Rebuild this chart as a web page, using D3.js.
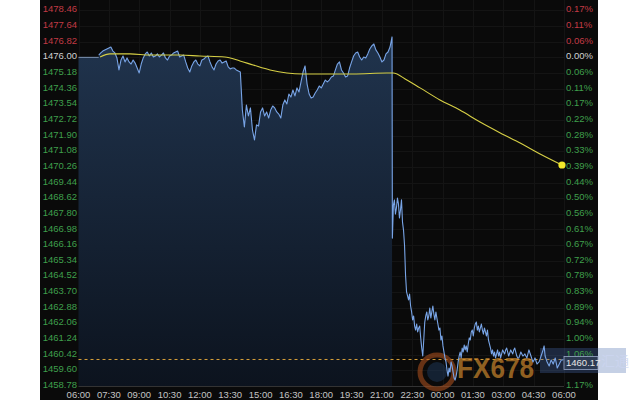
<!DOCTYPE html>
<html><head><meta charset="utf-8">
<script src="https://cdn.jsdelivr.net/npm/d3@7"></script>
<style>html,body{margin:0;padding:0;background:#fff;}svg{display:block;}</style>
</head><body>
<svg id="c" width="640" height="400"></svg>
<script>
// ---------------- DATA ----------------
const prevClose = 1476.00;
const lastPrice = 1460.17;
const yTickLabels = ["1478.46","1477.64","1476.82","1476.00","1475.18","1474.36","1473.54","1472.72","1471.90","1471.08","1470.26","1469.44","1468.62","1467.80","1466.98","1466.16","1465.34","1464.52","1463.70","1462.88","1462.06","1461.24","1460.42","1459.60","1458.78"];
const pctLabels = ["0.17%","0.11%","0.06%","0.00%","0.06%","0.11%","0.17%","0.22%","0.28%","0.33%","0.39%","0.44%","0.50%","0.56%","0.61%","0.67%","0.72%","0.78%","0.83%","0.89%","0.94%","1.00%","1.06%","1.11%","1.17%"];
const xTickLabels = ["06:00","07:30","09:00","10:30","12:00","13:30","15:00","16:30","18:00","19:30","21:00","22:30","00:00","01:30","03:00","04:30","06:00"];

const session1Start = "07:00";
const session1BarMinutes = 6;
const session1Prices = [1476.12,1476.23,1476.33,1476.39,1476.44,1476.49,1476.54,1476.33,1476.23,1475.97,
1475.34,1475.86,1476.07,1475.76,1475.97,1475.76,1475.65,1475.86,1475.70,1475.44,
1475.18,1475.65,1475.97,1476.18,1476.28,1476.07,1476.23,1476.02,1476.07,1476.18,
1476.02,1476.12,1476.23,1475.97,1475.86,1476.07,1476.12,1476.23,1476.28,1476.33,
1476.02,1476.07,1476.12,1475.76,1475.44,1475.23,1475.55,1475.76,1475.86,1475.65,
1475.55,1475.86,1475.91,1476.02,1476.07,1475.76,1475.50,1475.34,1475.65,1475.81,
1475.86,1475.70,1475.76,1475.81,1475.50,1475.39,1475.44,1475.44,1475.34,1475.29,
1475.23,1473.24,1472.35,1473.50,1472.93,1473.35,1472.19,1471.67,1472.46,1472.40,
1473.14,1473.35,1472.93,1473.14,1472.82,1473.24,1473.45,1473.35,1473.14,1473.03,
1472.82,1473.50,1473.77,1473.56,1474.08,1473.92,1474.29,1473.98,1474.40,1474.19,
1474.71,1475.23,1475.55,1474.60,1474.08,1473.87,1473.92,1474.13,1474.29,1474.50,
1474.40,1474.60,1474.81,1474.71,1474.81,1474.97,1475.02,1475.34,1475.65,1475.76,
1475.34,1475.18,1474.97,1475.02,1475.44,1475.76,1476.07,1476.23,1476.28,1476.02,
1475.86,1476.02,1475.97,1476.18,1476.44,1476.60,1476.70,1476.39,1476.23,1476.02,
1475.76,1475.86,1476.18,1476.28,1476.54,1477.07];

const session2Start = "21:31";
const session2BarMinutes = 3;
const session2Prices = [1466.53,
1468.26,1468.53,1467.79,1468.11,1468.63,1468.32,1467.58,1468.00,1468.53,1467.37,
1466.95,1466.17,1464.60,1463.71,1463.50,1463.29,1463.60,1462.97,1462.66,1462.24,
1462.45,1461.92,1461.71,1462.03,1461.61,1461.82,1461.92,1461.30,1460.77,1460.35,
1461.19,1462.13,1462.45,1462.66,1462.24,1462.45,1462.87,1462.34,1462.66,1462.97,
1462.55,1462.24,1462.66,1462.34,1462.03,1461.71,1461.82,1461.19,1461.40,1460.88,
1460.56,1460.25,1460.04,1459.62,1459.30,1459.72,1459.51,1460.04,1459.83,1459.51,
1459.20,1459.09,1459.30,1459.62,1460.04,1460.35,1460.56,1460.25,1460.77,1460.56,
1460.93,1460.67,1460.88,1460.56,1460.98,1461.30,1461.19,1461.61,1461.71,1461.40,
1461.82,1462.03,1462.13,1461.71,1461.92,1461.61,1461.82,1462.03,1461.71,1461.50,
1461.82,1461.61,1461.40,1461.71,1461.19,1460.98,1460.77,1460.46,1460.67,1460.35,
1460.56,1460.25,1460.46,1460.67,1460.35,1460.56,1460.25,1460.46,1460.67,1460.56,
1460.46,1460.67,1460.77,1460.56,1460.35,1460.51,1460.67,1460.56,1460.46,1460.67,
1460.77,1460.56,1460.35,1460.25,1460.25,1460.40,1460.56,1460.46,1460.35,1460.40,
1460.46,1460.35,1460.25,1460.46,1460.67,1460.51,1460.35,1460.19,1460.04,1460.14,
1460.25,1460.09,1459.93,1459.99,1460.04,1460.19,1460.35,1460.51,1460.67,1460.88,
1460.35,1460.19,1460.04,1459.93,1459.83,1459.99,1460.14,1460.04,1459.93,1460.09,
1460.25,1459.99,1459.72,1459.83,1459.93,1460.04,1460.14,1460.14,1460.17];

const avgTimes = ["07:04","07:33","08:33","09:32","11:01","12:00","13:14","13:59","14:38","15:28","16:18","17:06","17:56","19:34","21:15","21:33","22:14","22:53","23:52","00:51","01:51","02:51","03:50","04:49","05:54"];
const avgValues = [1476.02,1476.18,1476.18,1476.12,1476.12,1476.07,1476.02,1475.81,1475.60,1475.34,1475.18,1475.13,1475.13,1475.13,1475.18,1475.18,1474.81,1474.40,1473.77,1473.24,1472.61,1472.04,1471.51,1470.94,1470.36];

// ---------------- HELPERS ----------------
function toMin(s){ const [h,m]=s.split(":").map(Number); let t=(h-6)*60+m; if(t<0) t+=1440; return t; }
function series(start, step, vals){ const t0=toMin(start); return vals.map((v,i)=>({t:t0+i*step, v})); }

const s1 = series(session1Start, session1BarMinutes, session1Prices);
const s2 = series(session2Start, session2BarMinutes, session2Prices);
const avg = avgTimes.map((t,i)=>({t:toMin(t), v:avgValues[i]}));

const svg = d3.select("#c");
const x = d3.scaleLinear().domain([0,1440]).range([78.5,564]);
const y = d3.scaleLinear().domain([1458.78,1478.46]).range([386,10.4]);
const tickVals = yTickLabels.map(Number);

// panel
svg.append("rect").attr("x",40).attr("y",0).attr("width",558).attr("height",400).attr("fill","#0a0a0a");

// grid
const grid = svg.append("g");
grid.selectAll("line.h").data(tickVals).join("line").attr("class","h")
  .attr("x1",x(0)).attr("x2",x(1440)).attr("y1",d=>Math.round(y(d))+0.5).attr("y2",d=>Math.round(y(d))+0.5)
  .attr("stroke","#141414").attr("stroke-width",1);
grid.selectAll("line.v").data(d3.range(0,1441,90)).join("line").attr("class","v")
  .attr("y1",0).attr("y2",y(1458.78)).attr("x1",d=>Math.round(x(d))+0.5).attr("x2",d=>Math.round(x(d))+0.5)
  .attr("stroke","#141414").attr("stroke-width",1);

// gradient
const defs = svg.append("defs");
const grad = defs.append("linearGradient").attr("id","fillg").attr("gradientUnits","userSpaceOnUse")
  .attr("x1",0).attr("x2",0).attr("y1",y(prevClose)).attr("y2",y(1458.78));
grad.append("stop").attr("offset","0%").attr("stop-color","#1f324b");
grad.append("stop").attr("offset","100%").attr("stop-color","#0c131e");

// area for session 1 (including flat prev close lead-in)
const areaData = [{t:0,v:prevClose},{t:s1[0].t,v:prevClose}].concat(s1);
svg.append("path").datum(areaData)
  .attr("d", d3.area().x(d=>x(d.t)).y0(y(1458.78)).y1(d=>y(d.v)))
  .attr("fill","url(#fillg)");
svg.append("path").datum([{t:0,v:prevClose},{t:s1[0].t,v:prevClose}])
  .attr("d", d3.line().x(d=>x(d.t)).y(d=>y(d.v)))
  .attr("stroke","#7f95b5").attr("stroke-width",1).attr("fill","none");

// bottom axis line
svg.append("line").attr("x1",x(0)).attr("x2",x(1440)).attr("y1",386.5).attr("y2",386.5).attr("stroke","#333");

// dashed last price line
svg.append("line").attr("x1",x(0)).attr("x2",x(1440)).attr("y1",y(lastPrice)).attr("y2",y(lastPrice))
  .attr("stroke","#d9a13a").attr("stroke-width",1).attr("stroke-dasharray","3,3");

// watermark
const wm = svg.append("g").attr("opacity",0.7);
wm.append("rect").attr("x",540).attr("y",348).attr("width",86).attr("height",25).attr("fill","#4a6cb0").attr("opacity",0.45);
wm.append("text").attr("x",601).attr("y",366).attr("font-family","Noto Sans CJK SC").attr("font-size",14)
  .attr("fill","#b8c4ea").attr("opacity",0.8).text("汇通");
wm.append("circle").attr("cx",437).attr("cy",372).attr("r",17).attr("fill","none").attr("stroke","#b0531e").attr("stroke-width",5).attr("opacity",0.8);
wm.append("circle").attr("cx",437).attr("cy",372).attr("r",10).attr("fill","#203a5c").attr("opacity",0.7);
wm.append("text").attr("x",457).attr("y",378).attr("font-family","Liberation Sans").attr("font-weight","bold")
  .attr("font-size",30).attr("textLength",77).attr("lengthAdjust","spacingAndGlyphs").attr("fill","#c9852c").text("FX678");

// price line
const line = d3.line().x(d=>x(d.t)).y(d=>y(d.v));
svg.append("path").datum(s1.concat(s2)).attr("d",line)
  .attr("fill","none").attr("stroke","#78a4e6").attr("stroke-width",1.1).attr("stroke-linejoin","round");

// average line
svg.append("path").datum(avg).attr("d", d3.line().curve(d3.curveMonotoneX).x(d=>x(d.t)).y(d=>y(d.v)))
  .attr("fill","none").attr("stroke","#d6cf45").attr("stroke-width",1.1);
const lastAvg = avg[avg.length-1];
svg.append("circle").attr("cx",x(lastAvg.t)).attr("cy",y(lastAvg.v)).attr("r",3.6).attr("fill","#f3ea2a");

const lblColor = v => v>prevClose ? "#c23a45" : (v===prevClose ? "#d0d0d0" : "#3f9f4c");
// left labels
svg.append("g").selectAll("text").data(yTickLabels).join("text")
  .attr("x",77).attr("y",d=>y(+d)-1.5).attr("text-anchor","end").attr("dominant-baseline","central")
  .attr("font-family","Liberation Sans, Arial").attr("font-size",9.5)
  .attr("fill",d=>lblColor(+d)).text(d=>d);

// right labels (the one under the last-price tag is hidden, as in the reference)
const lastY = y(lastPrice);
const pctShown = pctLabels.map((d,i)=>({d, v:tickVals[i]})).filter(o=>Math.abs(y(o.v)-(lastY+4))>8);
svg.append("g").selectAll("text").data(pctShown).join("text")
  .attr("x",566).attr("y",o=>y(o.v)-1.5).attr("dominant-baseline","central")
  .attr("font-family","Liberation Sans, Arial").attr("font-size",9.5)
  .attr("fill",o=>lblColor(o.v)).text(o=>o.d);

// last price tag
svg.append("rect").attr("x",564).attr("y",lastY-3).attr("width",34).attr("height",13)
  .attr("fill","#2c3a52").attr("stroke","#9aa8c8").attr("stroke-width",0.8);
svg.append("text").attr("x",566).attr("y",lastY+3.5).attr("dominant-baseline","central")
  .attr("font-family","Liberation Sans, Arial").attr("font-size",9.5).attr("fill","#e6e6e6").text(lastPrice.toFixed(2));

// bottom time labels
svg.append("g").selectAll("text").data(xTickLabels).join("text")
  .attr("x",(d,i)=>x(i*90)).attr("y",394).attr("text-anchor","middle").attr("dominant-baseline","central")
  .attr("font-family","Liberation Sans, Arial").attr("font-size",9.5).attr("fill","#c4c4c4")
  .text(d=>d);
</script>
</body></html>
